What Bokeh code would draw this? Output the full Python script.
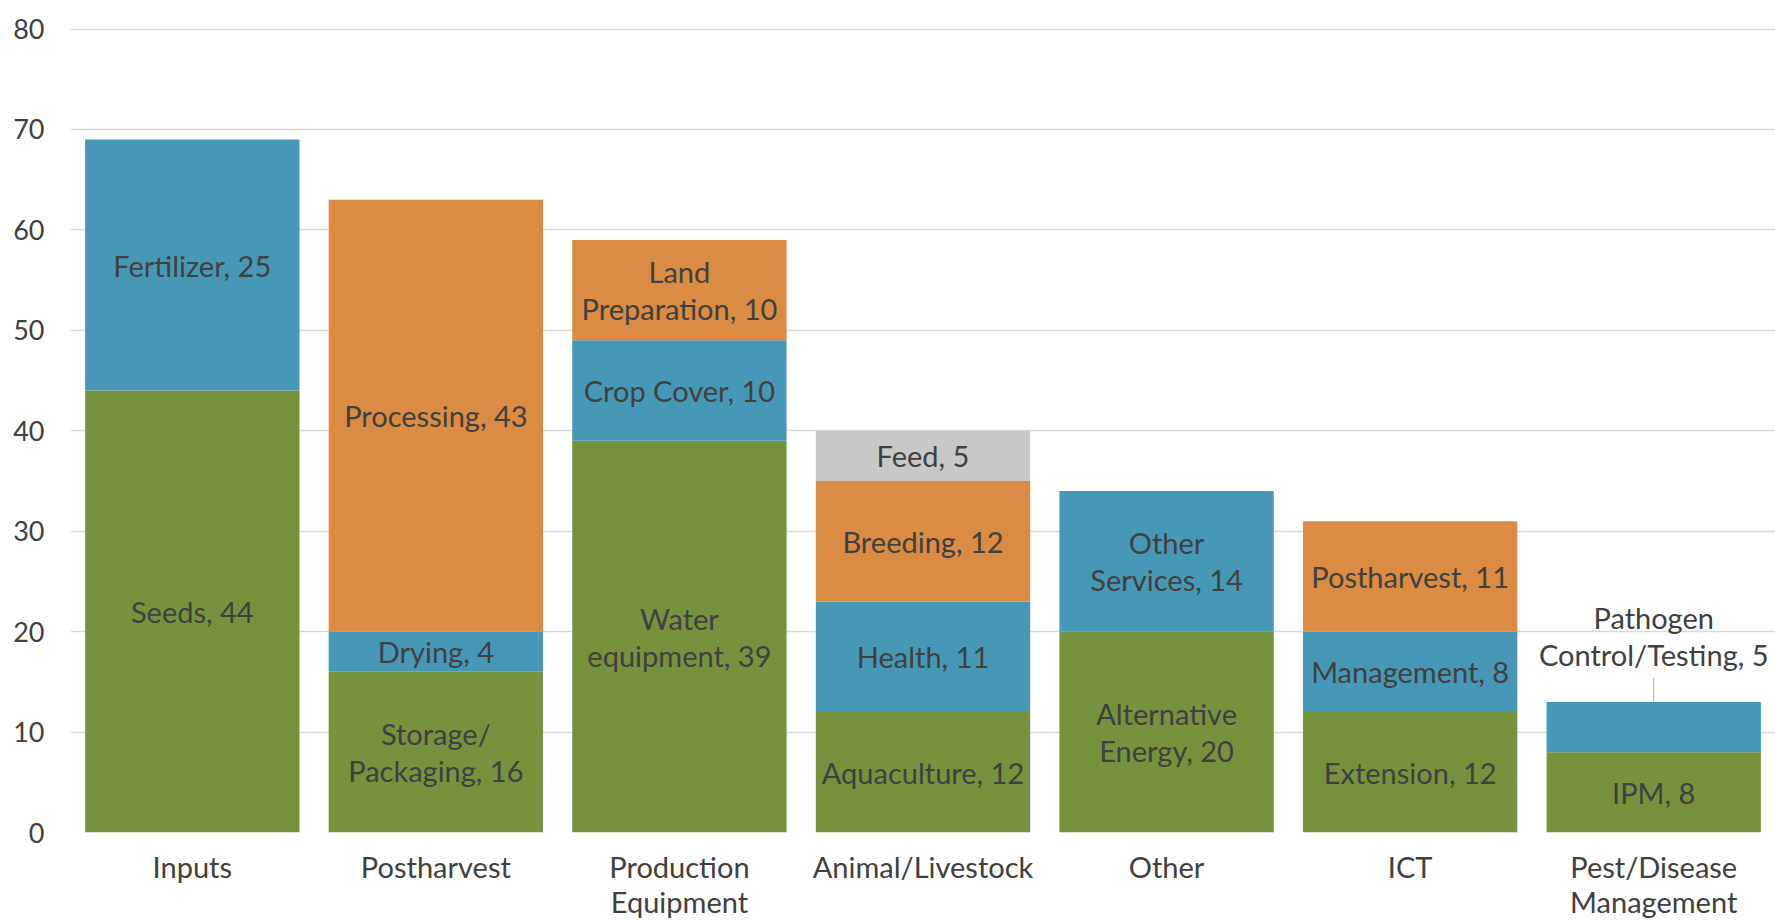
import numpy as np
from bokeh.plotting import figure
from bokeh.models import FactorRange, Range1d, SingleIntervalTicker, ColumnDataSource
from bokeh.core.properties import value
from bokeh.embed import file_html
from bokeh.resources import INLINE

categories = ["Inputs", "Postharvest", "Production\nEquipment", "Animal/Livestock",
              "Other", "ICT", "Pest/Disease\nManagement"]

# segment names (with their wrap points) and values, stacked level by level
level1_names = ["Seeds", "Storage/\nPackaging", "Water\nequipment", "Aquaculture",
                "Alternative\nEnergy", "Extension", "IPM"]
level1_values = [44, 16, 39, 12, 20, 12, 8]

level2_names = ["Fertilizer", "Drying", "Crop Cover", "Health",
                "Other\nServices", "Management", "Pathogen\nControl/Testing"]
level2_values = [25, 4, 10, 11, 14, 8, 5]

level3_names = ["", "Processing", "Land\nPreparation", "Breeding", "", "Postharvest", ""]
level3_values = [0, 43, 10, 12, 0, 11, 0]

level4_names = ["", "", "", "Feed", "", "", ""]
level4_values = [0, 0, 0, 5, 0, 0, 0]

# labels drawn outside (above) the bar
outside_labels = ["Pathogen\nControl/Testing"]

colors = ["#76923C", "#4798B6", "#DB8B42", "#C8C8C8"]
FONT = "Lato"
TEXT_COLOR = "#404040"
FS = "29px"

p = figure(x_range=FactorRange(*categories, range_padding=0),
           y_range=Range1d(0, 80.15),
           width=1775, height=921,
           output_backend="svg", toolbar_location=None,
           min_border_left=70, min_border_right=0,
           min_border_top=27, min_border_bottom=88)
p.outline_line_color = None
p.background_fill_color = "white"
p.border_fill_color = "white"

levels = [(level1_names, level1_values), (level2_names, level2_values),
          (level3_names, level3_values), (level4_names, level4_values)]

bottom = np.zeros(len(categories))
for (names, vals), col in zip(levels, colors):
    vals = np.array(vals, dtype=float)
    top = bottom + vals
    mask = vals > 0
    cats = [c for c, m in zip(categories, mask) if m]
    src = ColumnDataSource(dict(x=cats, bottom=bottom[mask], top=top[mask]))
    p.vbar(x="x", bottom="bottom", top="top", width=0.88, source=src,
           fill_color=col, line_color=None)

    in_x, in_y, in_t = [], [], []
    out_x, out_y, out_t = [], [], []
    for c, n, v, b, t in zip(categories, names, vals, bottom, top):
        if v <= 0:
            continue
        label = f"{n}, {int(v)}"
        if n in outside_labels:
            out_x.append(c); out_y.append(t); out_t.append(label)
        else:
            in_x.append(c); in_y.append((b + t) / 2); in_t.append(label)
    if in_t:
        p.text(x=in_x, y=in_y, text=in_t, text_align="center", text_baseline="middle",
               text_font=value(FONT), text_font_size=FS, text_color=TEXT_COLOR,
               text_line_height=1.05)
    if out_t:
        p.ray(x=out_x, y=out_y, length=24, length_units="screen", angle=np.pi / 2,
              line_color="#A6A6A6", line_width=1)
        p.text(x=out_x, y=out_y, text=out_t, text_align="center", text_baseline="bottom",
               y_offset=-30, text_font=value(FONT), text_font_size=FS,
               text_color=TEXT_COLOR, text_line_height=1.05)
    bottom = top

p.yaxis.ticker = SingleIntervalTicker(interval=10)
p.xgrid.grid_line_color = None
p.ygrid.grid_line_color = "#D9D9D9"
p.ygrid.grid_line_width = 1.5
p.ygrid.level = "underlay"

for ax in (p.xaxis, p.yaxis):
    ax.axis_line_color = None
    ax.major_tick_line_color = None
    ax.minor_tick_line_color = None
    ax.major_tick_out = 0
    ax.major_tick_in = 0
    ax.major_label_text_font = FONT
    ax.major_label_text_color = TEXT_COLOR
p.xaxis.major_label_text_font_size = FS
p.xaxis.major_label_text_line_height = 1.0
p.yaxis.major_label_text_font_size = "27px"
p.yaxis.major_label_standoff = 22
p.xaxis.major_label_standoff = 16

open("out.html", "w").write(file_html(p, INLINE))
